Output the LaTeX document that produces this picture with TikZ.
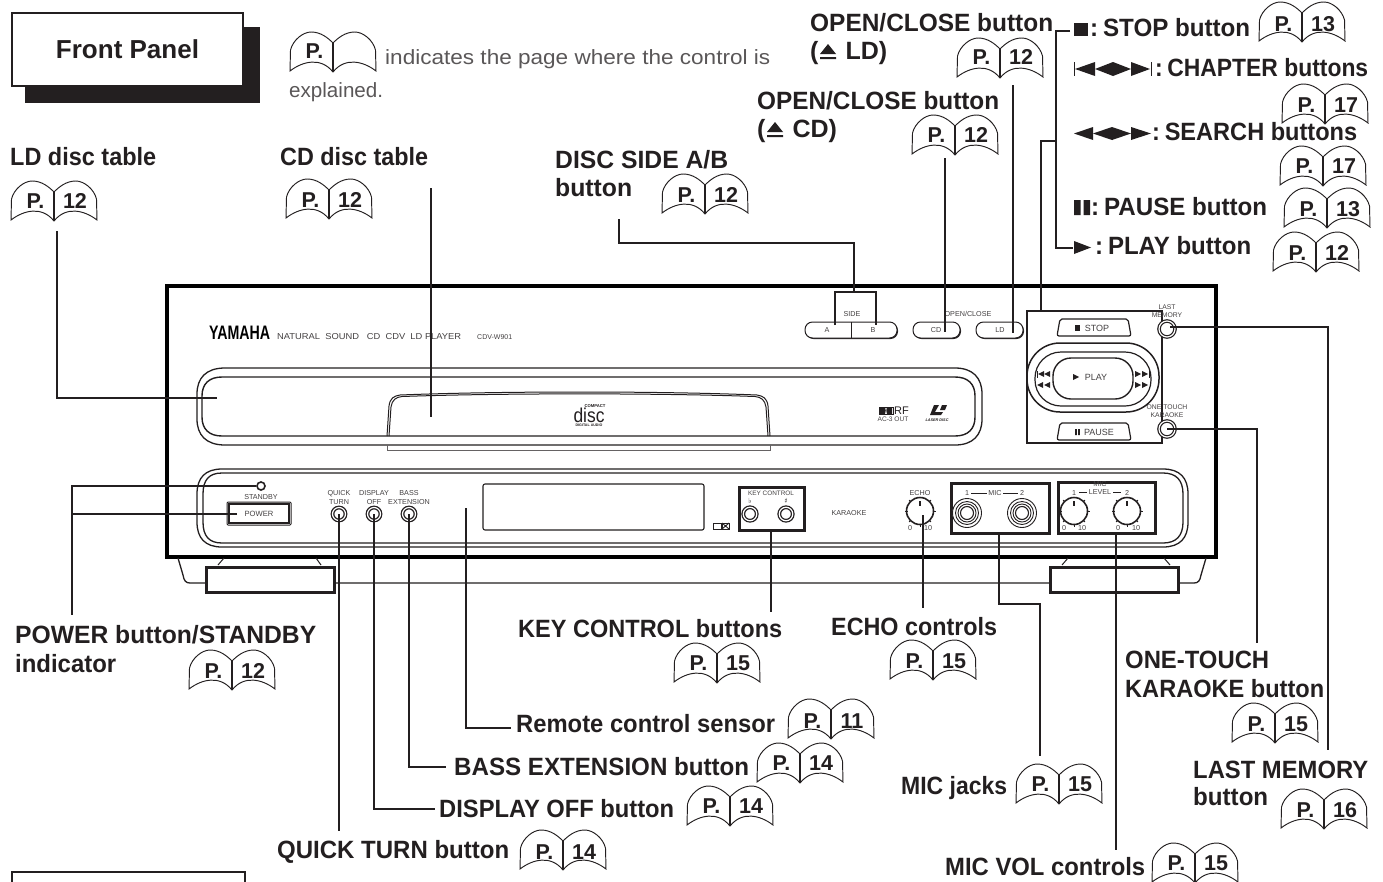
\documentclass[tikz,border=0pt]{standalone}
\usepackage{fontspec}
\usepackage{graphicx}
\setmainfont{Liberation Sans}
\newfontfamily\dejafont{DejaVu Sans}
\definecolor{ink}{HTML}{231F20}
\newcommand{\fitw}[2]{\resizebox{#1pt}{\height}{#2}}
\tikzset{
  lbl/.style={anchor=base west,inner sep=0pt,text=ink,font=\bfseries\fontsize{25}{28}\selectfont},
  booknum/.style={anchor=base,inner sep=0pt,text=ink,font=\bfseries\fontsize{21.5}{24}\selectfont},
  light/.style={anchor=base west,inner sep=0pt,text=ink!75,font=\fontsize{20.6}{24}\selectfont},
  tiny/.style={inner sep=0pt,text=ink!85,font=\fontsize{7.2}{8.6}\selectfont},
  leader/.style={draw=ink,line width=2pt},
  panel/.style={draw=ink,line width=1.3pt},
  frame/.style={draw=black,line width=3.2pt},
  boxline/.style={draw=ink,line width=2.6pt},
  round/.style={circle,draw=ink,line width=1.3pt,fill=white,inner sep=0pt},
  sym/.style={fill=ink,draw=none}
}
% book icon: x, y of the foot of the spine, number, text baseline offset, name
\newcommand{\bookicon}[5]{%
  \begin{scope}[shift={(#1,#2)}]
    \draw[ink,line width=.95pt,fill=white] (-43,-1) -- (-42.5,-22) .. controls (-40,-32) and (-30,-40) .. (-22,-40)
       .. controls (-12,-40) and (-5,-34) .. (0,-29) .. controls (5,-34) and (12,-40) .. (22,-40)
       .. controls (30,-40) and (40,-32) .. (42.5,-22) -- (43,-1)
       .. controls (30,-11) and (12,-15) .. (0,0) .. controls (-12,-15) and (-30,-11) .. (-43,-1) -- cycle;
    \draw[ink,line width=1.3pt] (0,-29) -- (0,0);
    \node[booknum] (#5p) at (-18.5,#4) {P.};
    \node[booknum] (#5n) at (21,#4) {#3};
  \end{scope}}
\newcommand{\tril}[4]{\fill[sym] (#1,#2) -- (#1+#3,#2-#4/2) -- (#1+#3,#2+#4/2) -- cycle;}
\newcommand{\trir}[4]{\fill[sym] (#1,#2-#4/2) -- (#1+#3,#2) -- (#1,#2+#4/2) -- cycle;}
\newcommand{\knob}[3]{%
  \node[round,line width=1.6pt,minimum size=27pt] (#3) at (#1,#2) {};
  \foreach \a in {-45,0,45,90,135,180,225}
    \draw[ink,line width=.8pt] ($(#1,#2)+(\a:12.5)$) -- ($(#1,#2)+(\a:15.5)$);
  \draw[ink,line width=1.6pt] (#1,#2-10) -- (#1,#2-5);}
\usetikzlibrary{calc}
\begin{document}
\begin{tikzpicture}[x=1pt,y=-1pt]
\clip (0,0) rectangle (1383,881);
\fill[white] (0,0) rectangle (1383,881);

% title box
\fill[ink] (25,27) rectangle (260,103);
\node[draw=ink,line width=2pt,fill=white,minimum width=231pt,minimum height=73pt,inner sep=0pt,text=ink,font=\bfseries\fontsize{26}{30}\selectfont,anchor=north west] (title) at (11,12) {Front Panel};
\draw[ink,line width=2pt,fill=white] (12,872) rectangle (245,900);

% legend
\bookicon{333}{72}{}{-14}{bLegend}
\node[light] (legA) at (385,64) {\fitw{385}{indicates the page where the control is}};
\node[light] (legB) at (289,97) {explained.};

% device frame and feet
\draw[frame] (167,286) rectangle (1216,557);
\draw[panel] (178,558) -- (183,575) .. controls (184,581) and (186,583) .. (190,583) -- (1194,583)
   .. controls (1198,583) and (1200,581) .. (1201,575) -- (1206,558);
\draw[panel,line width=1pt] (218,565) -- (224,558) (316,558) -- (321,565) (1062,565) -- (1068,558) (1164,558) -- (1170,565);
\draw[ink,line width=3pt,fill=white] (206,567) rectangle (334,592);
\draw[ink,line width=3pt,fill=white] (1050,567) rectangle (1178,592);

% top strip
\node[anchor=base west,inner sep=0pt,text=black,font=\bfseries\fontsize{19.5}{20}\selectfont] (yamaha) at (209,339) {\fitw{61}{YAMAHA}};
\node[anchor=base west,inner sep=0pt,text=ink!85,font=\fontsize{8.6}{10}\selectfont] (natural) at (277,339) {\fitw{184}{NATURAL\ \ SOUND\ \ \ CD\ \ CDV\ \ LD PLAYER}};
\node[anchor=base west,inner sep=0pt,text=ink!85,font=\fontsize{7}{8}\selectfont] (model) at (477,339) {CDV-W901};

% disc bay
\draw[panel] (225,368) -- (955,368) .. controls (973,368) and (982,378) .. (982,394) -- (982,419) .. controls (982,435) and (973,445) .. (955,445) -- (225,445) .. controls (206,445) and (197,435) .. (197,419) -- (197,394) .. controls (197,378) and (206,368) .. (225,368) -- cycle;
\draw[panel,line width=1.4pt] (222,377) -- (955,377) .. controls (968,377) and (975,384) .. (975,396) -- (975,417) .. controls (975,429) and (968,436) .. (955,436) -- (222,436) .. controls (209,436) and (202,429) .. (202,417) -- (202,396) .. controls (202,384) and (209,377) .. (222,377) -- cycle;
\draw[panel,line width=1pt] (387,436) -- (389,406) .. controls (390,398) and (394,396) .. (400,395) .. controls (500,391) and (660,391) .. (757,395) .. controls (763,396) and (767,398) .. (768,406) -- (770,436);
\draw[panel,line width=1pt] (389,436) -- (391,407) .. controls (392,400) and (396,397) .. (402,396.5) .. controls (500,393) and (660,393) .. (755,396.5) .. controls (761,397) and (765,400) .. (766,407) -- (768,436);
\draw[draw=ink!70,line width=1pt] (387,445) -- (387,450) -- (770,450) -- (770,445);

% compact disc logo
\node[inner sep=0pt,text=ink,font=\bfseries\fontsize{4.2}{5}\selectfont] (cdlogoA) at (595,406.5) {COMPACT};
\node[anchor=base,inner sep=0pt,text=ink,font=\fontsize{20}{20}\selectfont] (cdlogoB) at (589,422) {\fitw{31}{disc}};
\node[inner sep=0pt,text=ink,font=\bfseries\fontsize{3.6}{5}\selectfont] (cdlogoC) at (589,425) {DIGITAL AUDIO};

% dolby, RF, laserdisc
\draw[ink,line width=.8pt] (879,407) rectangle (893,414);
\fill[ink] (880,407) -- (885,407) .. controls (886,409) and (886,412) .. (885,414) -- (880,414) -- cycle (892,407) -- (887,407) .. controls (886,409) and (886,412) .. (887,414) -- (892,414) -- cycle;
\node[anchor=base west,inner sep=0pt,text=ink,font=\fontsize{11}{12}\selectfont] (rf) at (894,414.5) {RF};
\node[tiny,font=\fontsize{6.6}{8}\selectfont] (ac3) at (893,419.5) {AC-3 OUT};
\fill[ink] (934,405) -- (939,405) -- (935,412) -- (943,412) -- (941,415) -- (930,415) -- cycle (942,405) -- (947,405) -- (945,410) -- (940,410) -- cycle;
\node[inner sep=0pt,text=ink,font=\bfseries\itshape\fontsize{3.8}{5}\selectfont] (ldlogo) at (937,420) {LASER DISC};

% buttons
\node[tiny] (sidelbl) at (852,314) {SIDE};
\node[tiny] (oclbl) at (968,314) {OPEN/CLOSE};
\foreach \xa/\xb in {805/897,913/960,976/1023}{
  \fill[ink,rounded corners=7.5pt] (\xa+1,323) rectangle (\xb+1,339);
  \draw[ink,line width=1pt,fill=white,rounded corners=7.5pt] (\xa,322) rectangle (\xb,338);
}
\draw[ink,line width=1pt] (851,322) -- (851,338);
\node[tiny] (bA) at (827,330) {A};
\node[tiny] (bB) at (873,330) {B};
\node[tiny] (bCD) at (936,330) {CD};
\node[tiny] (bLD) at (1000,330) {LD};

% transport block
\draw[ink,line width=1.5pt,fill=white,rounded corners=33pt] (1027,343) rectangle (1159,412);
\draw[ink,line width=1.2pt,fill=white,rounded corners=26pt] (1035,352) rectangle (1151,406);
\draw[ink,line width=1.4pt,fill=white,rounded corners=18pt] (1053,358) rectangle (1133,399);
\draw[boxline] (1027,311) rectangle (1162,443);
\draw[ink,line width=1.2pt,fill=white,rounded corners=2pt] (1060,319) -- (1128,319) -- (1131,336) -- (1057,336) -- cycle;
\draw[ink,line width=1.2pt,fill=white,rounded corners=2pt] (1060,423) -- (1128,423) -- (1131,440) -- (1057,440) -- cycle;
\fill[sym] (1075,325) rectangle (1080,330.5);
\node[tiny,font=\fontsize{9}{10}\selectfont] (bStop) at (1097,328) {STOP};
\trir{1073}{377}{6}{6}
\node[tiny,font=\fontsize{9}{10}\selectfont] (bPlay) at (1096,377.5) {PLAY};
\fill[sym] (1075,429) rectangle (1076.8,435) (1078,429) rectangle (1079.8,435);
\node[tiny,font=\fontsize{9}{10}\selectfont] (bPause) at (1099,432) {PAUSE};
\fill[sym] (1037,370.5) rectangle (1037.8,377.5);
\tril{1038}{374}{6}{6}\tril{1044}{374}{6}{6}
\tril{1037}{385}{6}{6}\tril{1044}{385}{6}{6}
\trir{1135}{374}{6}{6}\trir{1142}{374}{6}{6}
\fill[sym] (1149,370.5) rectangle (1149.8,377.5);
\trir{1135}{385}{6}{6}\trir{1142}{385}{6}{6}

% side round buttons
\node[tiny,font=\fontsize{6.8}{8}\selectfont,align=center] (lastlbl) at (1167,311) {LAST\\MEMORY};
\node[round,line width=1.2pt,double=white,double distance=1.2pt,minimum size=16pt] (lastbtn) at (1167,329) {};
\node[tiny,font=\fontsize{6.8}{8}\selectfont,align=center] (onelbl) at (1167,411) {ONE TOUCH\\KARAOKE};
\node[round,line width=1.2pt,double=white,double distance=1.2pt,minimum size=16pt] (onebtn) at (1167,429) {};

% lower panel
\draw[panel] (222,469) -- (1163,469) .. controls (1180,469) and (1188,478) .. (1188,494) -- (1188,522) .. controls (1188,538) and (1180,547) .. (1163,547) -- (222,547) .. controls (205,547) and (197,538) .. (197,522) -- (197,494) .. controls (197,478) and (205,469) .. (222,469) -- cycle;
\draw[panel] (222,473) -- (1163,473) .. controls (1176,473) and (1183,480) .. (1183,494) -- (1183,522) .. controls (1183,536) and (1176,543) .. (1163,543) -- (222,543) .. controls (209,543) and (203,536) .. (203,522) -- (203,494) .. controls (203,480) and (209,473) .. (222,473) -- cycle;

\node[round,line width=1.6pt,minimum size=8pt] (standby) at (261,486) {};
\node[tiny] (standbylbl) at (261,497) {STANDBY};
\draw[ink,line width=1pt,rounded corners=1pt] (227,502) rectangle (291,525);
\node[draw=ink,line width=1.1pt,minimum width=60pt,minimum height=19pt,inner sep=0pt,text=ink!85,font=\fontsize{7.6}{9}\selectfont] (power) at (259,513.5) {POWER};

\node[tiny,align=center] (quicklbl) at (339,497.5) {QUICK\\TURN};
\node[tiny,align=center] (displaylbl) at (374,497.5) {DISPLAY\\OFF};
\node[tiny,align=center] (basslbl) at (409,497.5) {BASS\\EXTENSION};
\node[round,double=white,double distance=1.2pt,minimum size=13pt] (quick) at (339,514) {};
\node[round,double=white,double distance=1.2pt,minimum size=13pt] (display) at (374,514) {};
\node[round,double=white,double distance=1.2pt,minimum size=13pt] (bass) at (409,514) {};
\coordinate (sensor) at (466,508);
\draw[ink,line width=1.1pt,rounded corners=2pt] (483,484) rectangle (704,530);
\draw[ink,line width=.8pt] (713,523) rectangle (721,529);
\draw[ink,line width=.8pt] (722,523) rectangle (729,529);
\draw[ink,line width=.9pt] (722,523) -- (729,529) (722,529) -- (729,523);

% key control
\node[boxline,minimum width=65pt,minimum height=43pt,inner sep=0pt,anchor=north west] (keybox) at (738,486) {};
\node[tiny,font=\fontsize{6.4}{8}\selectfont] (keylbl) at (771,493) {KEY CONTROL};
\node[inner sep=0pt,text=ink,font=\dejafont\fontsize{7}{8}\selectfont] (flat) at (750,501) {♭};
\node[inner sep=0pt,text=ink,font=\dejafont\fontsize{7}{8}\selectfont] (sharp) at (786,501) {♯};
\node[round,double=white,double distance=1.2pt,minimum size=13.5pt] (keyA) at (750,514) {};
\node[round,double=white,double distance=1.2pt,minimum size=13.5pt] (keyB) at (786,514) {};
\node[tiny] (karaoke) at (849,513) {KARAOKE};

% echo
\node[tiny] (echolbl) at (920,493) {ECHO};
\knob{920}{511}{echo}
\node[tiny] (echoz) at (910,528) {0};
\node[tiny] (echot) at (928,528) {10};

% mic
\node[boxline,minimum width=98pt,minimum height=50pt,inner sep=0pt,anchor=north west] (micbox) at (950,482) {};
\node[tiny] (micone) at (967,493) {1};
\node[tiny] (mictwo) at (1022,493) {2};
\node[tiny] (miclbl) at (995,493) {MIC};
\draw[ink,line width=1pt] (971,493) -- (987,493) (1003,493) -- (1018,493);
\foreach \cx/\nm in {967/jackA,1022/jackB}{
  \node[round,line width=.9pt,minimum size=29pt] (\nm) at (\cx,513) {};
  \draw[ink,line width=.9pt] (\cx,513) circle[radius=11.5];
  \draw[ink,line width=.9pt] (\cx,513) circle[radius=9];
  \draw[ink,line width=1.1pt] (\cx,513) circle[radius=6.5];
}

% mic level
\node[boxline,minimum width=97pt,minimum height=51pt,inner sep=0pt,anchor=north west] (levelbox) at (1057,481) {};
\node[tiny] (levelmic) at (1100,484) {MIC};
\node[tiny] (levellbl) at (1100,492) {LEVEL};
\node[tiny] (levelone) at (1074,493) {1};
\node[tiny] (leveltwo) at (1127,493) {2};
\draw[ink,line width=1pt] (1079,492) -- (1087,492) (1113,492) -- (1121,492);
\knob{1074}{511}{levelA}
\knob{1127}{511}{levelB}
\node[tiny] (lz1) at (1064,528) {0};
\node[tiny] (lt1) at (1082,528) {10};
\node[tiny] (lz2) at (1118,528) {0};
\node[tiny] (lt2) at (1136,528) {10};

% free ends of the leaders
\coordinate (ldStart) at (57,231);
\coordinate (ldEnd) at (217,398);
\coordinate (cdtStart) at (431,188);
\coordinate (cdtEnd) at (431,417);
\coordinate (sideStart) at (619,219);
\coordinate (sideMid) at (854,292);
\coordinate (sideA) at (835,325);
\coordinate (sideB) at (876,325);
\coordinate (ocdStart) at (945,158);
\coordinate (ocdEnd) at (945,332);
\coordinate (oldStart) at (1013,85);
\coordinate (oldEnd) at (1013,333);
\coordinate (tTop) at (1070,31);
\coordinate (tBot) at (1073,248);
\coordinate (tBus) at (1056,141);
\coordinate (tBox) at (1041,311);
\coordinate (powerEnd) at (72,615);
\coordinate (powerIn) at (237,514);

% leaders
\draw[leader] (ldStart) |- (ldEnd);
\draw[leader] (cdtStart) -- (cdtEnd);
\draw[leader] (sideStart) |- (854,243) -- (sideMid);
\draw[boxline,line width=2.2pt] (sideA) |- (sideMid) -| (sideB);
\draw[leader] (ocdStart) -- (ocdEnd);
\draw[leader] (oldStart) -- (oldEnd);
\draw[leader] (tTop) -| (tBus) |- (tBot);
\draw[leader] (tBox) |- (tBus);
\draw[leader] (standby.west) -| (powerEnd);
\draw[leader] (powerIn) -- (powerIn -| powerEnd);
\coordinate (qEnd) at (339,831);
\coordinate (dEnd) at (435,809);
\coordinate (bEnd) at (446,767);
\coordinate (sEnd) at (511,728);
\draw[leader] (quick.center) -- (qEnd);
\draw[leader] (display.center) |- (dEnd);
\draw[leader] (bass.center) |- (bEnd);
\draw[leader] (sensor) |- (sEnd);
\coordinate (kEnd) at (771,612);
\coordinate (eEnd) at (923,608);
\coordinate (mEnd) at (1040,756);
\coordinate (mBend) at (999,604);
\coordinate (lEnd) at (1116,850);
\draw[leader] (keybox.south -| kEnd) -- (kEnd);
\draw[leader] (923,515) -- (eEnd);
\draw[leader] (micbox.south -| mBend) -- (mBend) -| (mEnd);
\draw[leader] (levelbox.south -| lEnd) -- (lEnd);
\coordinate (oneEnd) at (1257,643);
\coordinate (lastEnd) at (1328,750);
\draw[leader] (onebtn.center) -| (oneEnd);
\draw[leader] (1170,327) -| (lastEnd);

% labels
\node[lbl] (tLD) at (10,165) {\fitw{146}{LD disc table}};
\bookicon{54}{221}{12}{-13}{bLD}
\node[lbl] (tCD) at (280,165) {\fitw{148}{CD disc table}};
\bookicon{329}{219}{12}{-12}{bCDt}
\node[lbl] (tSideA) at (555,168) {\fitw{173}{DISC SIDE A/B}};
\node[lbl] (tSideB) at (555,196) {\fitw{77}{button}};
\bookicon{705}{214}{12}{-12}{bSide}
\node[lbl] (tOcdA) at (757,109) {\fitw{242}{OPEN/CLOSE button}};
\node[lbl] (tOcdB) at (757,137) {(\hspace{27pt}CD)};
\fill[sym] (767,132) -- (783,132) -- (775,122) -- cycle (767,135) rectangle (783,137);
\bookicon{955}{155}{12}{-13}{bOcd}
\node[lbl] (tOldA) at (810,31) {\fitw{243}{OPEN/CLOSE button}};
\node[lbl] (tOldB) at (810,59) {(\hspace{27pt}LD)};
\fill[sym] (820,54) -- (836,54) -- (828,44) -- cycle (820,57) rectangle (836,59);
\bookicon{1000}{78}{12}{-14}{bOld}
\fill[sym] (1074,23) rectangle (1088,36);
\node[lbl] (tStop) at (1090,36) {\fitw{160}{:\hspace{5pt}STOP button}};
\bookicon{1302}{42}{13}{-11}{bStopB}
\fill[sym] (1074,62) rectangle (1075.3,76);
\tril{1075}{69}{20}{14}\tril{1095}{69}{18}{14}\trir{1113}{69}{18}{14}\trir{1131}{69}{19}{14}
\fill[sym] (1150.5,62) rectangle (1152,76);
\node[lbl] (tChap) at (1155,76) {\fitw{213}{:\hspace{5pt}CHAPTER buttons}};
\bookicon{1325}{124}{17}{-12}{bChap}
\tril{1074}{133.5}{19}{13}\tril{1093}{133.5}{19}{13}\trir{1112}{133.5}{19}{13}\trir{1131}{133.5}{20}{13}
\node[lbl] (tSearch) at (1152,140) {\fitw{205}{:\hspace{5pt}SEARCH buttons}};
\bookicon{1323}{186}{17}{-13}{bSearch}
\fill[sym] (1074,200) rectangle (1080.5,215) (1083.5,200) rectangle (1090,215);
\node[lbl] (tPause) at (1091,215) {\fitw{176}{:\hspace{5pt}PAUSE button}};
\bookicon{1327}{228}{13}{-12}{bPauseB}
\trir{1074}{247.5}{17}{13}
\node[lbl] (tPlay) at (1095,254) {\fitw{156}{:\hspace{5pt}PLAY button}};
\bookicon{1316}{272}{12}{-12}{bPlayB}
\node[lbl] (tPowerA) at (15,643) {\fitw{301}{POWER button/STANDBY}};
\node[lbl] (tPowerB) at (15,672) {\fitw{101}{indicator}};
\bookicon{232}{690}{12}{-12}{bPower}
\node[lbl] (tQuick) at (277,858) {\fitw{232}{QUICK TURN button}};
\bookicon{563}{870}{14}{-11}{bQuick}
\node[lbl] (tDisplay) at (439,817) {\fitw{235}{DISPLAY OFF button}};
\bookicon{730}{826}{14}{-13}{bDisplay}
\node[lbl] (tBass) at (454,775) {\fitw{295}{BASS EXTENSION button}};
\bookicon{800}{783}{14}{-13}{bBass}
\node[lbl] (tSensor) at (516,732) {\fitw{259}{Remote control sensor}};
\bookicon{831}{739}{11}{-11}{bSensor}
\node[lbl] (tKey) at (518,637) {\fitw{264}{KEY CONTROL buttons}};
\bookicon{717}{683}{15}{-13}{bKey}
\node[lbl] (tEcho) at (831,635) {\fitw{166}{ECHO controls}};
\bookicon{933}{680}{15}{-12}{bEcho}
\node[lbl] (tMic) at (901,794) {\fitw{106}{MIC jacks}};
\bookicon{1059}{804}{15}{-13}{bMic}
\node[lbl] (tVol) at (945,875) {\fitw{200}{MIC VOL controls}};
\bookicon{1195}{883}{15}{-13}{bVol}
\node[lbl] (tOneA) at (1125,668) {\fitw{144}{ONE-TOUCH}};
\node[lbl] (tOneB) at (1125,697) {\fitw{199}{KARAOKE button}};
\bookicon{1275}{743}{15}{-12}{bOne}
\node[lbl] (tLastA) at (1193,778) {\fitw{175}{LAST MEMORY}};
\node[lbl] (tLastB) at (1193,805) {\fitw{75}{button}};
\bookicon{1324}{829}{16}{-12}{bLast}
\end{tikzpicture}
\end{document}
